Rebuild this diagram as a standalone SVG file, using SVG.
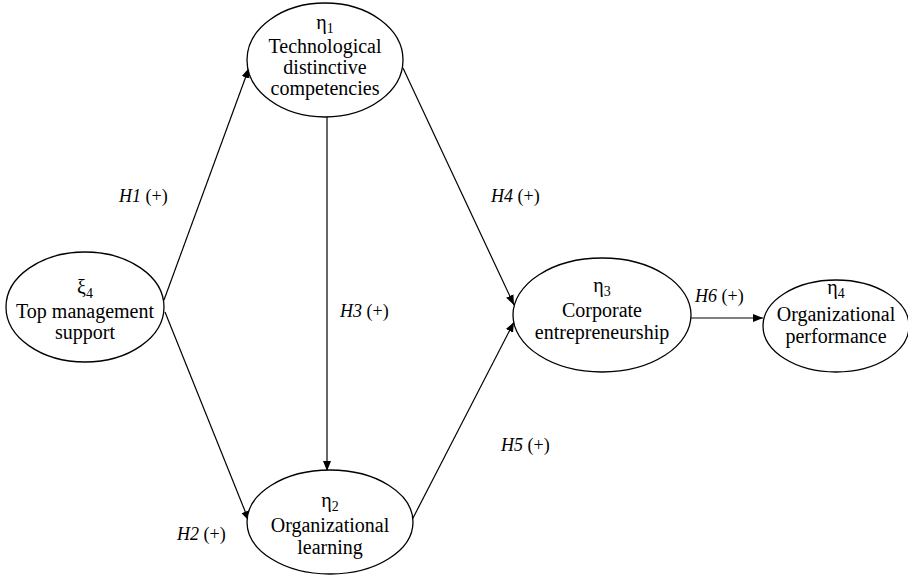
<svg xmlns="http://www.w3.org/2000/svg" width="908" height="576" viewBox="0 0 908 576">
<style>
.n ellipse{fill:#fff;stroke:#000;stroke-width:1.3}
.n text{font-family:'Liberation Serif','Times New Roman','DejaVu Serif',serif;font-size:20px;text-anchor:middle;fill:#000}
.c line{stroke:#000;stroke-width:1.2;marker-end:url(#ah)}
.l{font-family:'Liberation Serif','Times New Roman','DejaVu Serif',serif;font-size:18px;fill:#000}
.i{font-style:italic}
.s{font-size:14px}
</style>
<defs>
<marker id="ah" viewBox="0 0 10 10" refX="10" refY="5" markerWidth="10" markerHeight="10" markerUnits="userSpaceOnUse" orient="auto">
<path d="M0,1 L10,5 L0,9 Z" fill="#000"/>
</marker>
</defs>
<g class="c" id="connectors">
<line x1="164" y1="300" x2="249" y2="68"/>
<line x1="165" y1="312" x2="249" y2="521"/>
<line x1="327" y1="117" x2="327" y2="471"/>
<line x1="403" y1="68" x2="514" y2="305"/>
<line x1="412" y1="520" x2="514" y2="322"/>
<line x1="691" y1="318" x2="763" y2="318"/>
</g>
<g class="n" id="eta1">
<ellipse cx="325" cy="60" rx="78" ry="57"/>
<text x="325" y="29">η<tspan class="s" dy="4">1</tspan></text>
<text x="325" y="53">Technological</text>
<text x="325" y="74">distinctive</text>
<text x="325" y="95">competencies</text>
</g>
<g class="n" id="xi4">
<ellipse cx="85" cy="307" rx="79" ry="55"/>
<text x="85" y="294">ξ<tspan class="s" dy="4">4</tspan></text>
<text x="85" y="318">Top management</text>
<text x="85" y="339">support</text>
</g>
<g class="n" id="eta2">
<ellipse cx="330" cy="522" rx="83" ry="52"/>
<text x="330" y="507">η<tspan class="s" dy="4">2</tspan></text>
<text x="330" y="532">Organizational</text>
<text x="330" y="554">learning</text>
</g>
<g class="n" id="eta3">
<ellipse cx="602" cy="315" rx="89" ry="57"/>
<text x="602" y="292">η<tspan class="s" dy="4">3</tspan></text>
<text x="602" y="317">Corporate</text>
<text x="602" y="339">entrepreneurship</text>
</g>
<g class="n" id="eta4">
<ellipse cx="836" cy="326" rx="73" ry="46"/>
<text x="836" y="294">η<tspan class="s" dy="4">4</tspan></text>
<text x="836" y="321">Organizational</text>
<text x="836" y="343">performance</text>
</g>
<g id="labels">
<text class="l" x="119" y="202"><tspan class="i">H1</tspan> (+)</text>
<text class="l" x="177" y="540"><tspan class="i">H2</tspan> (+)</text>
<text class="l" x="340" y="317"><tspan class="i">H3</tspan> (+)</text>
<text class="l" x="491" y="202"><tspan class="i">H4</tspan> (+)</text>
<text class="l" x="501" y="451"><tspan class="i">H5</tspan> (+)</text>
<text class="l" x="695" y="302"><tspan class="i">H6</tspan> (+)</text>
</g>
</svg>
